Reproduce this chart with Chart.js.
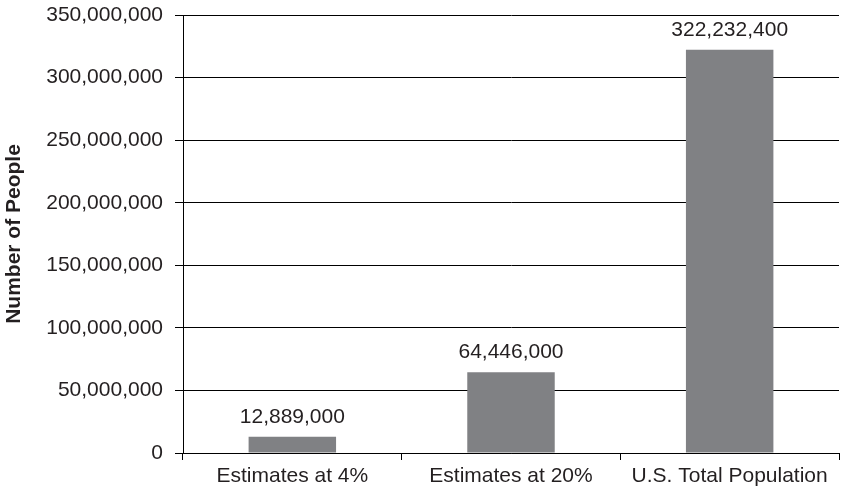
<!DOCTYPE html>
<html>
<head>
<meta charset="utf-8">
<title>Number of People</title>
<script src="https://cdn.jsdelivr.net/npm/chart.js@4"></script>
<style>
  body { margin: 0; background: #fff; }
  canvas { display: block; }
</style>
</head>
<body>
<canvas id="chart" width="848" height="492"></canvas>
<script>
const categories = ['Estimates at 4%', 'Estimates at 20%', 'U.S. Total Population'];
const people = [12889000, 64446000, 322232400];
const yTicks = [0, 50000000, 100000000, 150000000, 200000000, 250000000, 300000000, 350000000];

const textColor = '#231f20';
const fontFamily = '"Liberation Sans", Arial, Helvetica, sans-serif';

Chart.defaults.font.family = fontFamily;
Chart.defaults.font.size = 21;
Chart.defaults.color = textColor;

// draws the value above each bar
const barLabels = {
  id: 'barLabels',
  afterDatasetsDraw(chart) {
    const ctx = chart.ctx;
    const meta = chart.getDatasetMeta(0);
    ctx.save();
    ctx.font = '21px ' + fontFamily;
    ctx.fillStyle = textColor;
    ctx.textAlign = 'center';
    ctx.textBaseline = 'middle';
    meta.data.forEach((bar, i) => {
      ctx.fillText(people[i].toLocaleString('en-US'), bar.x, bar.y - 20);
    });
    ctx.restore();
  }
};

const ctx = document.getElementById('chart').getContext('2d');
new Chart(ctx, {
  type: 'bar',
  data: {
    labels: categories,
    datasets: [{
      data: people,
      backgroundColor: '#808184',
      borderWidth: 0,
      barPercentage: 0.4,
      categoryPercentage: 1
    }]
  },
  options: {
    responsive: false,
    animation: false,
    layout: { padding: { top: 15, right: 9, bottom: 0, left: 0 } },
    plugins: {
      legend: { display: false },
      tooltip: { enabled: false }
    },
    scales: {
      x: {
        grid: {
          offset: true,
          drawOnChartArea: false,
          color: '#000',
          tickLength: 7
        },
        border: { color: '#000', width: 1 },
        ticks: { padding: 4, maxRotation: 0, autoSkip: false },
        afterFit(scale) { scale.height = 39; }
      },
      y: {
        min: 0,
        max: 350000000,
        afterBuildTicks(scale) {
          scale.ticks = yTicks.map(v => ({ value: v }));
        },
        grid: { color: '#000', tickLength: 8 },
        border: { color: '#000', width: 1 },
        ticks: {
          padding: 12,
          callback: v => v.toLocaleString('en-US')
        },
        title: {
          display: true,
          text: 'Number of People',
          font: { size: 21, weight: 'bold' },
          padding: { top: 2, bottom: 0 }
        },
        afterFit(scale) {
          scale.width = 183;
          scale.paddingTop = 0;
          scale.paddingBottom = 0;
        }
      }
    }
  },
  plugins: [barLabels]
});
</script>
</body>
</html>
